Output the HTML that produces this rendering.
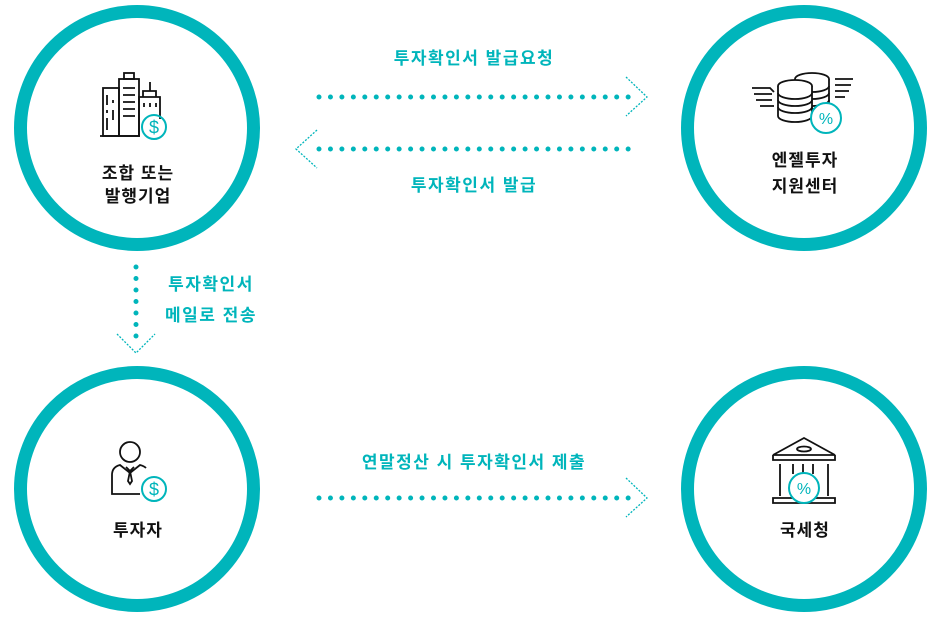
<!DOCTYPE html>
<html><head><meta charset="utf-8"><style>
html,body{margin:0;padding:0;background:#fff;width:932px;height:617px;overflow:hidden}
svg text{font-family:"Liberation Sans","Noto Sans CJK KR",sans-serif;font-weight:bold}
</style></head><body>
<svg width="932" height="617" viewBox="0 0 932 617" xmlns="http://www.w3.org/2000/svg">
<defs>
<g id="dol"><circle r="12" fill="none" stroke="#00b5bb" stroke-width="2"/><text x="0" y="6.5" text-anchor="middle" font-size="18" fill="#00b5bb" style="font-weight:normal">$</text></g>
<g id="pct"><circle r="15" fill="#fff" stroke="#00b5bb" stroke-width="2"/><text x="0" y="6" text-anchor="middle" font-size="16" fill="#00b5bb" style="font-weight:normal">%</text></g>
</defs>
<g fill="none" stroke="#00b5bb" stroke-width="13">
<circle cx="137" cy="128" r="116.5"/>
<circle cx="804" cy="128" r="116.5"/>
<circle cx="137" cy="489" r="116.5"/>
<circle cx="804" cy="489" r="116.5"/>
</g>
<g stroke="#00b5bb" stroke-linecap="round" fill="none">
<line x1="319" y1="97" x2="632" y2="97" stroke-width="5" stroke-dasharray="0 11.45"/>
<line x1="319" y1="149" x2="632" y2="149" stroke-width="5" stroke-dasharray="0 11.45"/>
<line x1="319" y1="498" x2="632" y2="498" stroke-width="5" stroke-dasharray="0 11.45"/>
<line x1="136" y1="267" x2="136" y2="340" stroke-width="5" stroke-dasharray="0 11.5"/>
</g>
<g stroke="#00b5bb" stroke-width="1.3" fill="none" stroke-dasharray="2 1.5">
<polyline points="626,77 647,97 626,116"/>
<polyline points="317,130 296,149 317,168"/>
<polyline points="626,478 647,498 626,517"/>
<polyline points="117,334 136,353 155,334"/>
</g>
<g fill="#00b5bb" font-size="17" letter-spacing="1.5" text-anchor="middle">
<text x="474" y="64">투자확인서 발급요청</text>
<text x="474" y="191">투자확인서 발급</text>
<text x="211" y="290">투자확인서</text>
<text x="211" y="321">메일로 전송</text>
<text x="474" y="468">연말정산 시 투자확인서 제출</text>
</g>
<g fill="#111" font-size="17" letter-spacing="1" text-anchor="middle">
<text x="138" y="179">조합 또는</text>
<text x="138" y="202">발행기업</text>
<text x="805" y="166">엔젤투자</text>
<text x="805" y="192">지원센터</text>
<text x="138" y="536">투자자</text>
<text x="805" y="536">국세청</text>
</g>
<g stroke="#111" stroke-width="1.8" fill="none">
<rect x="103" y="88" width="16" height="48"/>
<rect x="119" y="79" width="20" height="57"/>
<rect x="124" y="73" width="10" height="6"/>
<path d="M139 136V97h21v22M143 97v-6h13v6M150 91v-9"/>
<path d="M107 95v10M107 110v3M107 118v12M113 100v3M113 110v10M123 88h12M123 95h12M123 102h12M123 109h12M123 116h12M144 103v4M150 103v4M156 103v4M100 136h40"/>
</g>
<use href="#dol" x="154" y="127"/>
<g stroke="#111" stroke-width="1.8" fill="#fff">
<path d="M752 88h18l4 4M754 94h18M756 100h16M760 106h14M853 79h-18M851 85h-16M849 91h-14M845 97h-10" fill="none"/>
<ellipse cx="812" cy="79" rx="17" ry="6"/>
<path d="M795 79v30h34V79"/>
<path d="M795 86a17 6 0 0 0 34 0M795 93a17 6 0 0 0 34 0M795 100a17 6 0 0 0 34 0" fill="none"/>
<ellipse cx="795" cy="86" rx="17" ry="6"/>
<path d="M778 86v30a17 6 0 0 0 34 0V86" />
<path d="M778 93a17 6 0 0 0 34 0M778 100a17 6 0 0 0 34 0M778 107a17 6 0 0 0 34 0" fill="none"/>
</g>
<use href="#pct" x="826" y="118"/>
<g stroke="#111" stroke-width="1.8" fill="none">
<circle cx="130" cy="452" r="10"/>
<path d="M140 494h-28v-19q0-8 8-10l10 8 10-8q4 1 6 3M126 467l4 4 4-4M130 471l-2 10 2 3 2-3z"/>
</g>
<use href="#dol" x="154" y="489"/>
<g stroke="#111" stroke-width="1.8" fill="none">
<path d="M773 455l31-17 31 17zM773 455v5h62v-5M780 464v32M828 464v32M793 464v10M803 464v10M813 464v10M773 498h62v5h-62z"/>
<ellipse cx="804" cy="449" rx="7" ry="2.5"/>
</g>
<use href="#pct" x="804" y="488"/>
</svg>
</body></html>
